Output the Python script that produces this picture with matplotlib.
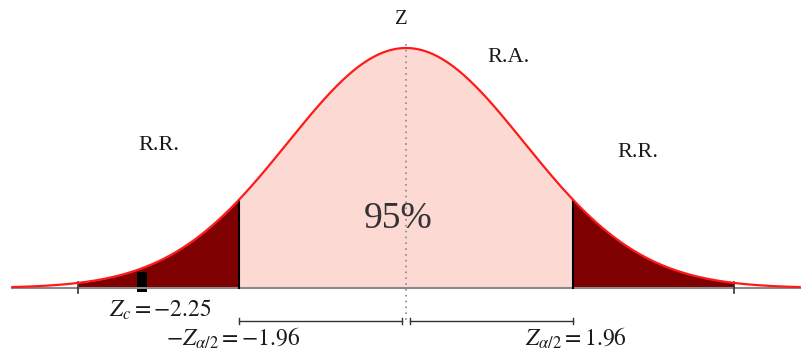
import numpy as np
import matplotlib
matplotlib.use("Agg")
import matplotlib.pyplot as plt

plt.rcParams['font.family'] = ['Liberation Serif', 'DejaVu Serif']
plt.rcParams['mathtext.fontset'] = 'stix'

# values shown on the chart
z_crit = 1.96
z_calc = -2.25
confidence = 95
tail_limit = 3.85      # where the shaded tails stop
z_calc_pos = -3.1      # schematic position of the Z_c marker
curve_sd = 1.386       # drawn width of the bell curve
region_labels = ["R.R.", "R.A.", "R.R."]

# pixel mapping of the reference picture
px_per_unit = 85.2
x_center_px = 406
base_px = 288
peak_px = 240

fig = plt.figure(figsize=(8.01, 3.52), dpi=100)
ax = fig.add_axes([0, 0, 1, 1])
ax.set_xlim(-x_center_px / px_per_unit, (801 - x_center_px) / px_per_unit)
ax.set_ylim(-(352 - base_px) / peak_px, base_px / peak_px)
ax.axis('off')


def pdf(u):
    return np.exp(-u ** 2 / (2 * curve_sd ** 2))


def px(x, y):
    """pixel position -> data coords"""
    return (x - x_center_px) / px_per_unit, (base_px - y) / peak_px


u = np.linspace(-4.62, 4.62, 800)

# acceptance region
mid = np.linspace(-z_crit, z_crit, 300)
ax.fill_between(mid, 0, pdf(mid), color='#fdd9d3', lw=0)

# rejection regions
for a, b in [(-tail_limit, -z_crit), (z_crit, tail_limit)]:
    t = np.linspace(a, b, 200)
    ax.fill_between(t, 0, pdf(t), color='#7f0000', lw=0)

# axis line and ticks
ax.plot([u[0], u[-1]], [0, 0], color='#8a8a8a', lw=1.5)
for t in [-tail_limit, tail_limit]:
    ax.plot([t, t], [-0.02, 0.025], color='#333333', lw=1.2)

# critical value lines
for t in [-z_crit, z_crit]:
    ax.plot([t, t], [0, pdf(t)], color='black', lw=1.5)

# bell curve
ax.plot(u, pdf(u), color='#ff1a1a', lw=1.6)

# center dotted line
ax.plot([0, 0], [px(0, 44)[1], px(0, 323)[1]], color='#888888', lw=1.2,
        ls=(0, (1, 2.5)))

# Z_c marker
w = 10 / px_per_unit
ax.add_patch(plt.Rectangle((z_calc_pos - w / 2, px(0, 292)[1]), w,
                           20 / peak_px, color='black', lw=0))

# brackets under the axis
yb = px(0, 321)[1]
th = 3 / peak_px
gap = 4 / px_per_unit
for a, b in [(-z_crit, -gap), (gap, z_crit)]:
    ax.plot([a, b], [yb, yb], color='#333333', lw=1.0)
    for t in [a, b]:
        ax.plot([t, t], [yb - th, yb + th], color='#333333', lw=1.0)

# text
ax.text(*px(401, 20), "Z", ha='center', va='center', fontsize=15, color='#1a1a1a')
ax.text(*px(159, 146), region_labels[0], ha='center', va='center', fontsize=16, color='#1a1a1a')
ax.text(*px(508, 58), region_labels[1], ha='center', va='center', fontsize=16, color='#1a1a1a')
ax.text(*px(638, 153), region_labels[2], ha='center', va='center', fontsize=16, color='#1a1a1a')
ax.text(*px(398, 219), f"{confidence}%", ha='center', va='center', fontsize=27, color='#333333')

ax.text(*px(160, 310), rf"$Z_c = {z_calc:.2f}$", ha='center', va='center',
        fontsize=17, color='#1a1a1a')
ax.text(*px(233, 338), rf"$-Z_{{\alpha/2}} = -{z_crit:.2f}$", ha='center', va='center',
        fontsize=17, color='#1a1a1a')
ax.text(*px(576, 338), rf"$Z_{{\alpha/2}} = {z_crit:.2f}$", ha='center', va='center',
        fontsize=17, color='#1a1a1a')

fig.savefig("out.png", dpi=100)
